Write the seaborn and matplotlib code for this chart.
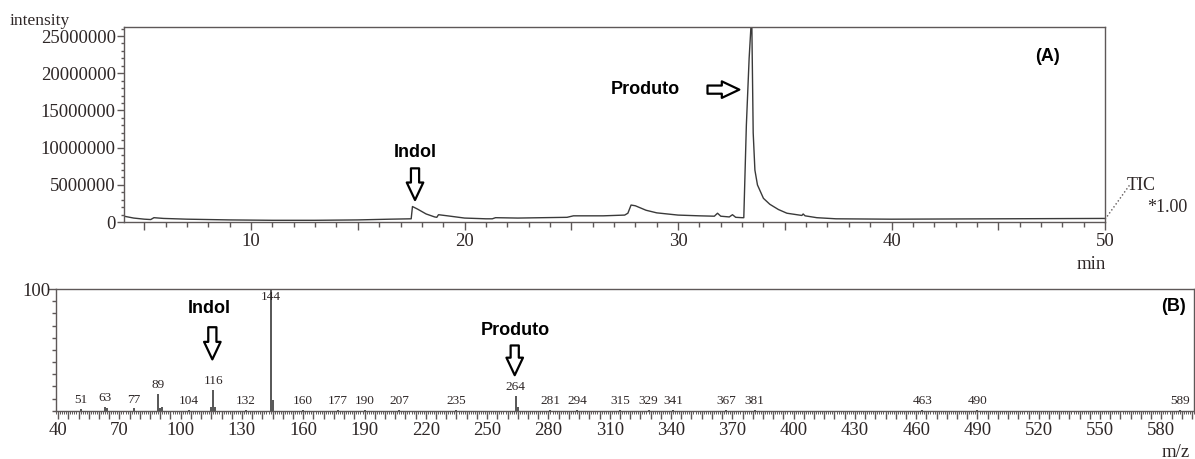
import numpy as np
import pandas as pd
import matplotlib
matplotlib.use("Agg")
import matplotlib.pyplot as plt
import seaborn as sns
from matplotlib.ticker import MultipleLocator

# ---------------------------------------------------------------
# (A) cromatograma TIC (intensidade em milhoes)
# ---------------------------------------------------------------
tempo_min = [4.05, 4.5, 5.0, 5.3, 5.45, 5.9, 7.0, 9.0, 11.0, 13.0, 15.0, 16.5,
             17.5, 17.56, 17.8, 18.2, 18.6, 18.7, 18.78, 19.2, 20.0, 21.0,
             21.3, 21.45, 22.5, 24.8, 25.1, 26.5, 27.5, 27.65, 27.8, 28.0,
             28.5, 29.0, 30.0, 31.0, 31.7, 31.85, 32.0, 32.4, 32.55, 32.7,
             33.0, 33.08, 33.2, 33.33, 33.45, 33.52, 33.6, 33.72, 34.0, 34.3,
             34.7, 35.1, 35.8, 35.86, 35.95, 36.5, 37.4, 40.0, 45.0, 50.0]
intensidade_M = [0.8, 0.55, 0.4, 0.35, 0.6, 0.5, 0.4, 0.3, 0.25, 0.25, 0.3, 0.4,
                 0.45, 2.1, 1.75, 1.1, 0.7, 0.65, 1.0, 0.85, 0.55, 0.45,
                 0.45, 0.6, 0.55, 0.65, 0.85, 0.85, 0.95, 1.2, 2.3, 2.2,
                 1.6, 1.25, 0.95, 0.85, 0.8, 1.2, 0.8, 0.7, 1.0, 0.65,
                 0.6, 0.6, 13.0, 22.0, 28.0, 12.0, 7.0, 5.0, 3.2, 2.4,
                 1.7, 1.2, 0.9, 1.1, 0.85, 0.6, 0.45, 0.4, 0.45, 0.5]

# ---------------------------------------------------------------
# (B) espectro de massas - abundancia relativa (%)
# ---------------------------------------------------------------
mz = [51, 63, 64, 77, 89, 90, 91, 104, 115, 116, 117, 132, 144, 145, 160,
      177, 190, 207, 235, 264, 265, 281, 294, 315, 329, 341, 367, 381, 463,
      490, 589]
abund_rel = [1.5, 3.5, 2, 2, 14, 2, 3, 1, 3, 17, 3, 1, 100, 9, 1,
             1, 1, 1, 1, 12, 3, 1, 1, 1, 1, 1, 1, 1, 1,
             1, 1]
mz_rotulados = [51, 63, 77, 89, 104, 116, 132, 144, 160, 177, 190, 207, 235,
                264, 281, 294, 315, 329, 341, 367, 381, 463, 490, 589]

df_tic = pd.DataFrame({"tempo": tempo_min, "intensidade": intensidade_M})
df_ms = pd.DataFrame({"mz": mz, "rel": abund_rel})

# estilo
sns.set_theme(style="white")
plt.rcParams["font.family"] = ["Liberation Serif", "DejaVu Serif"]
COR_TXT = "#2e2727"
COR_EIXO = "#5e5858"
COR_LINHA = "#3a3a3a"
SANS_BOLD = dict(family=["Liberation Sans", "DejaVu Sans"], fontweight="bold",
                 fontsize=13, color="black")
SETA = dict(arrowstyle="simple,head_length=0.9,head_width=0.85,tail_width=0.42",
            fc="white", ec="black", lw=1.6, mutation_scale=14)

fig = plt.figure(figsize=(11.95, 4.59), dpi=100)
axA = fig.add_axes([0.1038, 0.516, 0.8209, 0.425])
axB = fig.add_axes([0.0469, 0.105, 0.9523, 0.265])

for ax in (axA, axB):
    for sp in ax.spines.values():
        sp.set_color(COR_EIXO)
        sp.set_linewidth(1.0)
    # o estilo "white" do seaborn desliga os tracos dos eixos
    ax.tick_params(which="both", direction="out", colors=COR_EIXO,
                   labelcolor=COR_TXT, width=1.0, bottom=True, left=True)

# ---------------- painel A ----------------
sns.lineplot(data=df_tic, x="tempo", y="intensidade", ax=axA,
             color=COR_LINHA, lw=1.0)
axA.set_xlim(4.05, 50)
axA.set_ylim(0, 26.2)
axA.set_xlabel("")
axA.set_ylabel("")

xt = np.arange(5, 51, 5)
axA.set_xticks(xt, labels=[str(v) if v % 10 == 0 else "" for v in xt])
axA.xaxis.set_minor_locator(MultipleLocator(1))
for tick, v in zip(axA.xaxis.get_major_ticks(), xt):
    tick.tick1line.set_markersize(8 if v % 10 == 0 else 5.5)
axA.tick_params(axis="x", which="minor", length=3.5)
axA.tick_params(axis="x", which="major", labelsize=13.5, pad=2)

yt = np.arange(0, 26, 5)
axA.set_yticks(yt, labels=[str(int(v * 1e6)) for v in yt])
axA.yaxis.set_minor_locator(MultipleLocator(1))
axA.tick_params(axis="y", which="major", length=5, labelsize=13.5, pad=1)
axA.tick_params(axis="y", which="minor", length=2.5)

axA.text(17.68, 9.4, "Indol", ha="center", va="center", **SANS_BOLD)
axA.annotate("", xy=(17.68, 2.6), xytext=(17.68, 7.6), arrowprops=SETA)
axA.text(28.45, 17.8, "Produto", ha="center", va="center", **SANS_BOLD)
axA.annotate("", xy=(33.0, 17.8), xytext=(31.25, 17.8), arrowprops=SETA)
axA.text(47.3, 22.2, "(A)", ha="center", va="center", **SANS_BOLD)

fig.text(0.008, 0.955, "intensity", ha="left", va="center",
         fontsize=12.5, color=COR_TXT)
fig.text(0.913, 0.423, "min", ha="center", va="center",
         fontsize=13.5, color=COR_TXT)
fig.add_artist(plt.Line2D([0.9247, 0.9456], [0.522, 0.598], ls=":",
                          lw=1.0, color=COR_EIXO))
fig.text(0.943, 0.595, "TIC", ha="left", va="center",
         fontsize=13, color=COR_TXT)
fig.text(0.960, 0.547, "*1.00", ha="left", va="center",
         fontsize=13, color=COR_TXT)

# ---------------- painel B ----------------
axB.vlines(df_ms["mz"], 0, df_ms["rel"], color=COR_LINHA, lw=1.2)
axB.set_xlim(39, 596)
axB.set_ylim(0, 100)

for m in mz_rotulados:
    r = df_ms.loc[df_ms["mz"] == m, "rel"].iloc[0]
    if r >= 100:
        axB.annotate(str(m), (m, r), xytext=(0, -1), textcoords="offset points",
                     ha="center", va="top", fontsize=9.5, color=COR_TXT)
    else:
        axB.annotate(str(m), (m, r), xytext=(0, 2), textcoords="offset points",
                     ha="center", va="bottom", fontsize=9.5, color=COR_TXT)

# regua: traco grande a cada 30, medio a cada 10, pequeno a cada 5, minimo a cada 1
xb = np.arange(40, 596, 5)
axB.set_xticks(xb, labels=[str(v) if (v - 40) % 30 == 0 else "" for v in xb])
axB.xaxis.set_minor_locator(MultipleLocator(1))
for tick, v in zip(axB.xaxis.get_major_ticks(), xb):
    if (v - 40) % 30 == 0:
        tick.tick1line.set_markersize(7)
    elif v % 10 == 0:
        tick.tick1line.set_markersize(5.5)
    else:
        tick.tick1line.set_markersize(4)
axB.tick_params(axis="x", which="minor", length=2.5, width=0.7)
axB.tick_params(axis="x", which="major", labelsize=13.5, pad=2)

yb = np.arange(0, 101, 10)
axB.set_yticks(yb, labels=["100" if v == 100 else "" for v in yb])
axB.tick_params(axis="y", which="major", length=3, labelsize=13.5, pad=1)
axB.yaxis.get_major_ticks()[-1].tick1line.set_markersize(6)

axB.text(113.8, 84, "Indol", ha="center", va="center", **SANS_BOLD)
axB.annotate("", xy=(115.5, 40), xytext=(115.5, 71), arrowprops=SETA)
axB.text(264, 66, "Produto", ha="center", va="center", **SANS_BOLD)
axB.annotate("", xy=(263.5, 27), xytext=(263.5, 56), arrowprops=SETA)
axB.text(586, 86, "(B)", ha="center", va="center", **SANS_BOLD)

fig.text(0.996, 0.015, "m/z", ha="right", va="center",
         fontsize=13.5, color=COR_TXT)

fig.savefig("out.png", dpi=100, facecolor="white")
